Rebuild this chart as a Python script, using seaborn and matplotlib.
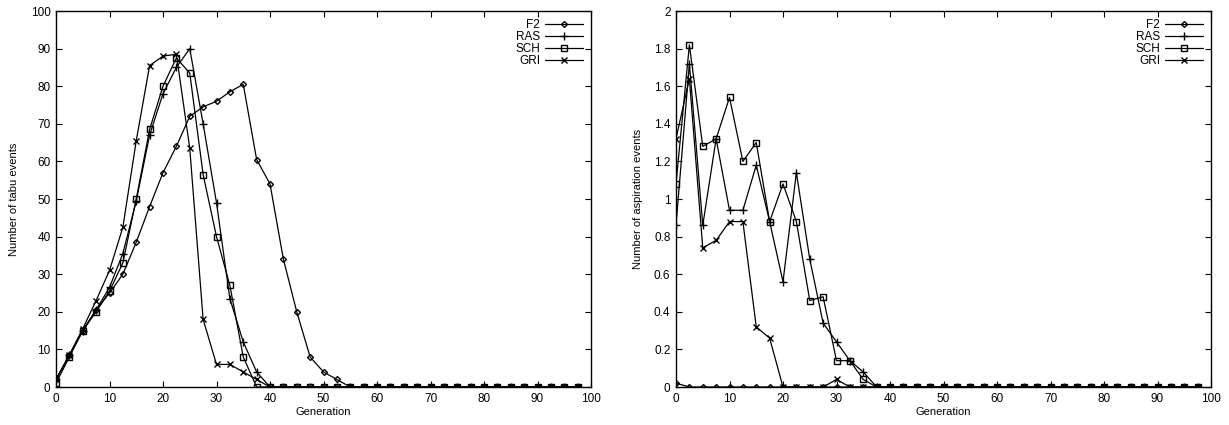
import matplotlib
matplotlib.use("Agg")
import matplotlib.pyplot as plt
import seaborn as sns
import numpy as np
from matplotlib.ticker import FuncFormatter

sns.set_style("ticks")
plt.rcParams['font.family'] = ['Liberation Sans', 'DejaVu Sans']
plt.rcParams['text.color'] = 'black'
plt.rcParams['axes.labelcolor'] = 'black'

generation = [0, 2.5, 5, 7.5, 10, 12.5, 15, 17.5, 20, 22.5, 25, 27.5, 30, 32.5, 35, 37.5,
              40, 42.5, 45, 47.5, 50, 52.5, 55, 57.5, 60, 62.5, 65, 67.5, 70, 72.5, 75, 77.5,
              80, 82.5, 85, 87.5, 90, 92.5, 95, 97.5]

tabu_F2 = [2, 8.5, 15, 20.5, 25, 30, 38.5, 48, 57, 64, 72, 74.5, 76, 78.5, 80.5, 60.5,
           54, 34, 20, 8, 4, 2, 0, 0, 0, 0, 0, 0, 0, 0, 0, 0,
           0, 0, 0, 0, 0, 0, 0, 0]
tabu_RAS = [2, 8.5, 15, 20.5, 26.5, 35.5, 49.5, 67, 78, 85, 90, 70, 49, 23.5, 12, 4,
            0, 0, 0, 0, 0, 0, 0, 0, 0, 0, 0, 0, 0, 0, 0, 0,
            0, 0, 0, 0, 0, 0, 0, 0]
tabu_SCH = [1, 8, 15, 20, 25.5, 33, 50, 68.5, 80, 87.5, 83.5, 56.5, 40, 27, 8, 0,
            0, 0, 0, 0, 0, 0, 0, 0, 0, 0, 0, 0, 0, 0, 0, 0,
            0, 0, 0, 0, 0, 0, 0, 0]
tabu_GRI = [2, 8.5, 15.5, 23, 31, 42.5, 65.5, 85.5, 88, 88.5, 63.5, 18, 6, 6, 4, 2,
            0, 0, 0, 0, 0, 0, 0, 0, 0, 0, 0, 0, 0, 0, 0, 0,
            0, 0, 0, 0, 0, 0, 0, 0]

asp_F2 = [0.02, 0, 0, 0, 0, 0, 0, 0, 0, 0, 0, 0, 0, 0, 0, 0,
          0, 0, 0, 0, 0, 0, 0, 0, 0, 0, 0, 0, 0, 0, 0, 0,
          0, 0, 0, 0, 0, 0, 0, 0]
asp_RAS = [0.86, 1.72, 0.86, 1.32, 0.94, 0.94, 1.18, 0.88, 0.56, 1.14, 0.68, 0.34, 0.24, 0.14, 0.08, 0,
           0, 0, 0, 0, 0, 0, 0, 0, 0, 0, 0, 0, 0, 0, 0, 0,
           0, 0, 0, 0, 0, 0, 0, 0]
asp_SCH = [1.08, 1.82, 1.28, 1.32, 1.54, 1.2, 1.3, 0.88, 1.08, 0.88, 0.46, 0.48, 0.14, 0.14, 0.04, 0,
           0, 0, 0, 0, 0, 0, 0, 0, 0, 0, 0, 0, 0, 0, 0, 0,
           0, 0, 0, 0, 0, 0, 0, 0]
asp_GRI = [1.32, 1.64, 0.74, 0.78, 0.88, 0.88, 0.32, 0.26, 0, 0, 0, 0, 0.04, 0, 0, 0,
           0, 0, 0, 0, 0, 0, 0, 0, 0, 0, 0, 0, 0, 0, 0, 0,
           0, 0, 0, 0, 0, 0, 0, 0]

series_names = ["F2", "RAS", "SCH", "GRI"]
markers = {"F2": ("D", 3.0), "RAS": ("+", 6), "SCH": ("s", 5), "GRI": ("x", 5)}

fig = plt.figure(figsize=(12.29, 4.25), dpi=100)
ax1 = fig.add_axes([56/1229, 38/425, 535/1229, 376/425])
ax2 = fig.add_axes([676/1229, 38/425, 535/1229, 376/425])

def draw(ax, data, ylim, yticks, ylabel):
    for name, vals in zip(series_names, data):
        m, ms = markers[name]
        sns.lineplot(x=generation, y=vals, ax=ax, color='black', linewidth=0.9,
                     marker=m, markersize=ms, markerfacecolor='none',
                     markeredgecolor='black', markeredgewidth=1.0, label=name)
    ax.set_xlim(0, 100)
    ax.set_ylim(*ylim)
    ax.set_xticks(np.arange(0, 101, 10))
    ax.set_yticks(yticks)
    ax.yaxis.set_major_formatter(FuncFormatter(lambda v, p: f"{v:g}"))
    ax.tick_params(direction='in', top=True, right=True, length=4, width=0.8,
                   labelsize=8.5, pad=4, colors='black')
    for s in ax.spines.values():
        s.set_visible(True)
        s.set_linewidth(1.0)
        s.set_color('black')
    ax.set_xlabel("Generation", fontsize=8, labelpad=2, color='black')
    ax.set_ylabel(ylabel, fontsize=8, labelpad=8, color='black')
    leg = ax.legend(loc='upper right', frameon=False, markerfirst=False,
                    fontsize=8.5, handlelength=3.2, handletextpad=0.4,
                    labelspacing=0.0, borderaxespad=0.3)
    for t in leg.get_texts():
        t.set_ha('right')
        t.set_color('black')

draw(ax1, [tabu_F2, tabu_RAS, tabu_SCH, tabu_GRI], (0, 100),
     np.arange(0, 101, 10), "Number of tabu events")
draw(ax2, [asp_F2, asp_RAS, asp_SCH, asp_GRI], (0, 2),
     np.round(np.arange(0, 2.01, 0.2), 1), "Number of aspiration events")

fig.savefig("out.png", dpi=100)
